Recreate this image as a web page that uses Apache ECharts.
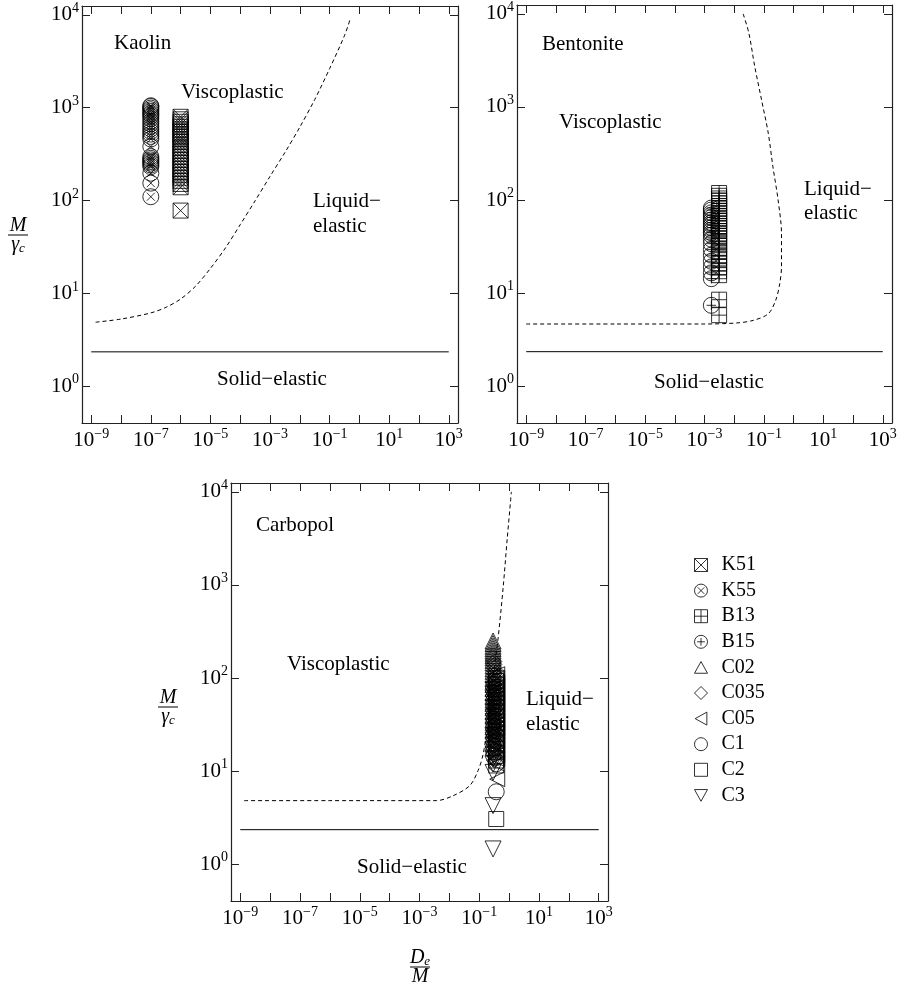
<!DOCTYPE html>
<html>
<head>
<meta charset="utf-8">
<script src="https://cdn.jsdelivr.net/npm/echarts@6/dist/echarts.min.js"></script>
<style>
  html, body { margin: 0; padding: 0; background: #fff; }
  #chart { width: 902px; height: 988px; }
</style>
</head>
<body>
<div id="chart"></div>
<script>
// tick exponents (decades) for both axes
const xTicks = [-9, -8, -7, -6, -5, -4, -3, -2, -1, 0, 1, 2, 3];
const xLabels = [-9, -7, -5, -3, -1, 1, 3];
const yTicks = [0, 1, 2, 3, 4];

// solid boundary (solid-elastic), same in every panel
const solidX = [1e-9, 1e3];
const solidY = [2.35, 2.35];

// dashed boundaries
const kaolinCurveX = [1.4e-9, 1e-8, 1e-7, 3.2e-7, 1e-6, 3.2e-6, 1e-5, 3.2e-5, 1e-4, 3.2e-4, 1e-3, 3.2e-3, 1e-2, 3.2e-2, 1e-1, 3.2e-1, 5.1e-1];
const kaolinCurveY = [4.9, 5.3, 6.17, 7.08, 8.71, 12.0, 18.6, 30.9, 55.0, 100, 182, 331, 617, 1230, 2630, 6030, 9330];

const bentoCurveX = [1e-9, 1e-6, 9e-4, 1.2e-2, 4.4e-2, 1.4e-1, 2.5e-1, 3.4e-1, 3.9e-1, 3.9e-1, 3.0e-1, 2.0e-1, 1.4e-1, 8.3e-2, 4.9e-2, 3.1e-2, 2.0e-2];
const bentoCurveY = [4.66, 4.66, 4.66, 4.78, 5.1, 6.0, 8.4, 12.6, 19.1, 43.7, 100, 229, 522, 1194, 2729, 6237, 10000];

const carboCurveX = [1.35e-9, 1e-6, 3.7e-3, 1.35e-2, 4.8e-2, 9.1e-2, 1.35e-1, 2.0e-1, 2.9e-1, 4.3e-1, 6.3e-1, 8.7e-1, 1.19];
const carboCurveY = [4.82, 4.82, 4.82, 5.45, 6.98, 10.1, 15.2, 34.8, 101, 272, 933, 3214, 10000];

// measured points
const k51X = 1e-6;
const k51Y = [798, 750, 705, 662, 622, 585, 550, 517, 486, 457, 429, 398, 370, 343, 319, 296, 275, 255, 237, 220, 204, 189, 176, 163, 151, 139, 78];
const k55X = 1e-7;
const k55Y = [1050, 1030, 990, 950, 910, 870, 840, 804, 760, 710, 670, 627, 590, 554, 520, 490, 460, 382, 298, 285, 274, 263, 253, 242, 232, 197, 154, 110];

const b13X = 3.1e-3;
const b13Y = [119, 111, 104, 98, 92, 86, 81, 76, 72, 67, 63.5, 60, 56, 52.5, 49.5, 46.5, 43.7, 41, 38.6, 35.5, 32.7, 30, 27.8, 25.5, 23.6, 21, 19.1, 17.2, 15.6, 8.5, 5.8];
const b15X = 1.7e-3;
const b15Y = [82, 78, 73, 69, 65, 61, 57, 54, 50.5, 47.5, 44.5, 42, 38, 34, 29.5, 25.6, 22, 19.1, 16.5, 14.3, 7.4];

const c02X = 0.29;
const c02Y = [250, 235, 220, 207, 195, 185, 175, 165, 155, 145, 135, 126, 118, 109, 100, 92, 85, 77, 70, 64, 58, 53, 48, 44, 40, 36, 33, 30, 27, 24.5, 22, 20, 18];
const c035X = 0.32;
const c035Y = [150, 140, 130, 120, 110, 100, 92, 85, 78, 72, 67, 62, 57, 52, 48, 45, 41, 38, 35, 32, 29, 27, 25, 23, 21, 19, 17.5, 16, 14.5, 13];
const c05X = 0.4;
const c05Y = [110, 100, 90, 82, 75, 68, 62, 57, 52, 47, 43, 39, 35, 32, 29, 26.5, 24, 21.5, 19, 17, 15, 13.5, 12, 8.2];
const c1X = 0.37;
const c1Y = [100, 90, 80, 72, 65, 58, 52, 47, 42, 38, 34, 30, 27, 24, 21, 18.5, 16, 14, 12, 6.0];
const c2X = 0.37;
const c2Y = [101, 93, 85, 77, 70, 63, 57, 52, 47, 42, 38, 34, 31, 28, 25, 22.5, 20, 18, 16, 14.5, 13, 11.5, 3.06];
const c3X = 0.29;
const c3Y = [75, 67, 60, 54, 48, 43, 38, 34, 30, 27, 24, 21.5, 19, 17, 15, 13.5, 11.9, 9.7, 4.26, 1.46];

const seriesNames = ['K51', 'K55', 'B13', 'B15', 'C02', 'C035', 'C05', 'C1', 'C2', 'C3'];

const symbols = {
  K51: 'path://M0,0L10,0L10,10L0,10ZM0,0L10,10M10,0L0,10',
  K55: 'path://M10,5A5,5,0,1,1,0,5A5,5,0,1,1,10,5ZM2.5,2.5L7.5,7.5M7.5,2.5L2.5,7.5',
  B13: 'path://M0,0L10,0L10,10L0,10ZM5,0L5,10M0,5L10,5',
  B15: 'path://M10,5A5,5,0,1,1,0,5A5,5,0,1,1,10,5ZM5,2L5,8M2,5L8,5',
  C02: 'path://M5,0L10,9L0,9Z',
  C035: 'diamond',
  C05: 'path://M9,0L9,10L0,5Z',
  C1: 'circle',
  C2: 'rect',
  C3: 'path://M0,0L10,0L5,9Z'
};

const FONT = '"Liberation Serif", "DejaVu Serif", serif';
const lg = Math.log10;

function pairs(xs, ys) {
  return xs.map((x, i) => [lg(x), lg(ys[i])]);
}
function column(x, ys) {
  return ys.map(y => [lg(x), lg(y)]);
}

function expLabel(v) {
  const e = Math.round(v);
  return '{b|10}{s|' + (e < 0 ? '\u2212' + (-e) : e) + '}';
}
const labelRich = {
  b: { fontSize: 21, fontFamily: FONT, color: '#000', lineHeight: 27 },
  s: { fontSize: 14, fontFamily: FONT, color: '#000', lineHeight: 14, verticalAlign: 'top' }
};

const grids = [
  { left: 82, top: 6, width: 376, height: 417 },
  { left: 517, top: 5, width: 375, height: 418 },
  { left: 231, top: 483, width: 377, height: 418 }
];

const xAxes = [];
const yAxes = [];
grids.forEach((g, i) => {
  ['bottom', 'top'].forEach(pos => {
    xAxes.push({
      type: 'value', gridIndex: i, position: pos, min: -9.31, max: 3.31,
      axisLine: { show: true, onZero: false, lineStyle: { color: '#222', width: 1.2 } },
      axisTick: { show: true, inside: true, length: 8, customValues: xTicks, lineStyle: { color: '#222' } },
      axisLabel: pos === 'bottom'
        ? { show: true, customValues: xLabels, margin: 4, formatter: expLabel, rich: labelRich }
        : { show: false },
      splitLine: { show: false }
    });
  });
  ['left', 'right'].forEach(pos => {
    yAxes.push({
      type: 'value', gridIndex: i, position: pos, min: -0.395, max: 4.095,
      axisLine: { show: true, onZero: false, lineStyle: { color: '#222', width: 1.2 } },
      axisTick: { show: true, inside: true, length: 8, customValues: yTicks, lineStyle: { color: '#222' } },
      axisLabel: pos === 'left'
        ? { show: true, customValues: yTicks, margin: 3, formatter: expLabel, rich: labelRich }
        : { show: false },
      splitLine: { show: false }
    });
  });
});

function lineSeries(gi, data, dashed) {
  return {
    type: 'line', xAxisIndex: gi * 2, yAxisIndex: gi * 2, data: data,
    symbol: 'none', smooth: dashed ? 0.3 : false, silent: true,
    lineStyle: { color: '#000', width: 1, type: dashed ? [4, 3] : 'solid' },
    z: 1
  };
}
function scatterSeries(gi, name, data, size) {
  return {
    type: 'scatter', name: name, xAxisIndex: gi * 2, yAxisIndex: gi * 2,
    data: data, symbol: symbols[name], symbolSize: size,
    itemStyle: { color: 'rgba(0,0,0,0)', borderColor: '#000', borderWidth: 1 },
    z: 3
  };
}

const series = [
  lineSeries(0, pairs(solidX, solidY), false),
  lineSeries(0, pairs(kaolinCurveX, kaolinCurveY), true),
  scatterSeries(0, 'K55', column(k55X, k55Y), 16),
  scatterSeries(0, 'K51', column(k51X, k51Y), 15),
  lineSeries(1, pairs(solidX, solidY), false),
  lineSeries(1, pairs(bentoCurveX, bentoCurveY), true),
  scatterSeries(1, 'B15', column(b15X, b15Y), 16),
  scatterSeries(1, 'B13', column(b13X, b13Y), 15),
  lineSeries(2, pairs(solidX, solidY), false),
  lineSeries(2, pairs(carboCurveX, carboCurveY), true),
  scatterSeries(2, 'C02', column(c02X, c02Y), 16),
  scatterSeries(2, 'C035', column(c035X, c035Y), 15),
  scatterSeries(2, 'C05', column(c05X, c05Y), 15),
  scatterSeries(2, 'C1', column(c1X, c1Y), 16),
  scatterSeries(2, 'C2', column(c2X, c2Y), 15),
  scatterSeries(2, 'C3', column(c3X, c3Y), 16)
];

function txt(x, y, s) {
  return { type: 'text', x: x, y: y, silent: true,
    style: { text: s, font: '21px ' + FONT, fill: '#000', verticalAlign: 'middle' } };
}
const fracRich = {
  i: { fontSize: 20, fontFamily: FONT, fontStyle: 'italic', fill: '#000' },
  sub: { fontSize: 13, fontFamily: FONT, fontStyle: 'italic', fill: '#000', padding: [8, 0, 0, 0] }
};
function frac(cx, cy, top, bottom) {
  return [
    { type: 'text', x: cx, y: cy - 9, silent: true,
      style: { text: top, rich: fracRich, align: 'center', verticalAlign: 'middle' } },
    { type: 'line', silent: true, shape: { x1: cx - 10, y1: cy, x2: cx + 10, y2: cy },
      style: { stroke: '#000', lineWidth: 1 } },
    { type: 'text', x: cx, y: cy + 10, silent: true,
      style: { text: bottom, rich: fracRich, align: 'center', verticalAlign: 'middle' } }
  ];
}

const graphics = [
  txt(114, 43, 'Kaolin'),
  txt(181, 92, 'Viscoplastic'),
  txt(313, 201, 'Liquid\u2212'),
  txt(313, 226, 'elastic'),
  txt(217, 379, 'Solid\u2212elastic'),
  txt(542, 44, 'Bentonite'),
  txt(559, 122, 'Viscoplastic'),
  txt(804, 189, 'Liquid\u2212'),
  txt(804, 213, 'elastic'),
  txt(654, 382, 'Solid\u2212elastic'),
  txt(256, 525, 'Carbopol'),
  txt(287, 664, 'Viscoplastic'),
  txt(526, 699, 'Liquid\u2212'),
  txt(526, 724, 'elastic'),
  txt(357, 867, 'Solid\u2212elastic')
].concat(
  frac(18, 235, '{i|M}', '{i|\u03b3}{sub|c}'),
  frac(168, 707, '{i|M}', '{i|\u03b3}{sub|c}'),
  frac(420, 967, '{i|D}{sub|e}', '{i|M}')
);

const chart = echarts.init(document.getElementById('chart'));
chart.setOption({
  animation: false,
  backgroundColor: '#fff',
  grid: grids,
  xAxis: xAxes,
  yAxis: yAxes,
  legend: {
    orient: 'vertical', left: 694, top: 555, padding: 0,
    itemWidth: 13, itemHeight: 13, itemGap: 5.6,
    selectedMode: false,
    data: seriesNames.map(n => ({ name: n, icon: symbols[n] })),
    itemStyle: { color: 'rgba(0,0,0,0)', borderColor: '#000', borderWidth: 1 },
    textStyle: { fontSize: 20, fontFamily: FONT, color: '#000', lineHeight: 14, padding: [0, 0, 0, 9] }
  },
  graphic: graphics,
  series: series
});
</script>
</body>
</html>
